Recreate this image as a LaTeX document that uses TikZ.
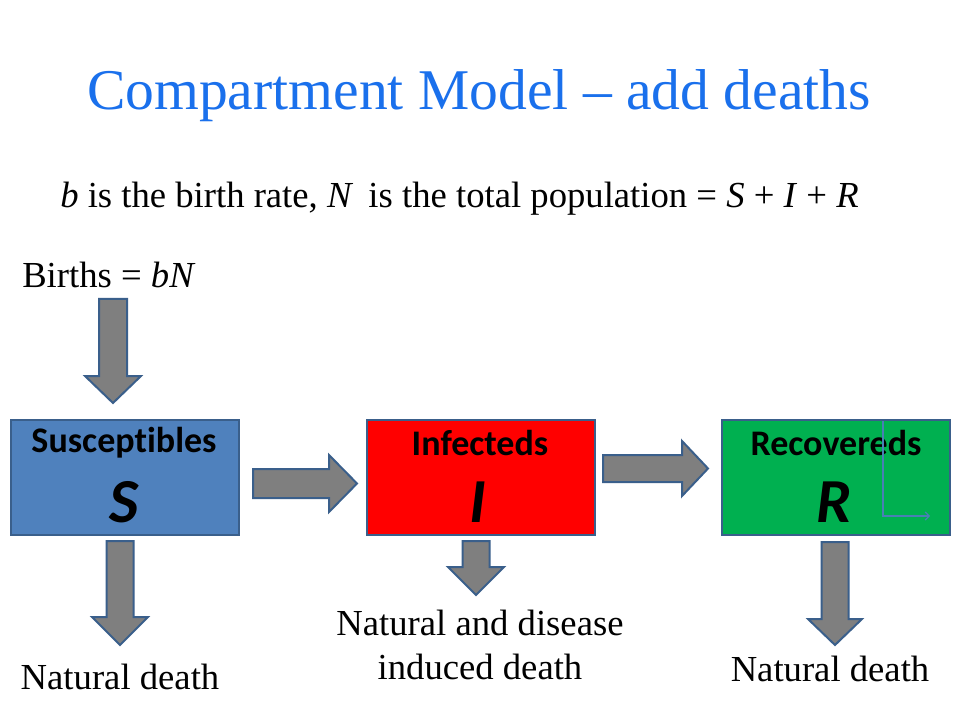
\documentclass[tikz,border=0pt]{standalone}
\usepackage{fontspec}
\usetikzlibrary{arrows.meta}
\setmainfont{Liberation Serif}
\newfontfamily\boxfont[Ligatures=NoCommon]{Carlito}
\definecolor{titleblue}{HTML}{1A70EC}
\definecolor{sfill}{HTML}{4F81BD}
\definecolor{bordr}{HTML}{3A5F8B}
\definecolor{ifill}{HTML}{FF0000}
\definecolor{rfill}{HTML}{00B050}
\definecolor{arrgray}{HTML}{7F7F7F}
\definecolor{thinblue}{HTML}{4A7FB5}
\newcommand{\blkdown}[7]{%
  \draw[blk] (#1-#5,#2) -- (#1+#5,#2) -- (#1+#5,#3) -- (#1+#6,#3) -- (#1,#4)
    -- (#1-#6,#3) -- (#1-#5,#3) -- cycle;}
\newcommand{\blkright}[6]{%
  \draw[blk] (#1,#2-#5) -- (#3,#2-#5) -- (#3,#2-#6) -- (#4,#2) -- (#3,#2+#6)
    -- (#3,#2+#5) -- (#1,#2+#5) -- cycle;}
\tikzset{
  blk/.style={fill=arrgray, draw=bordr, line width=1.5pt, line join=miter},
  comp/.style={draw=bordr, line width=1.5pt, minimum width=171pt, minimum height=86pt, inner sep=0pt},
  boxlabel/.style={font=\boxfont\bfseries\fontsize{27}{30}\selectfont, inner sep=0pt},
  boxvar/.style={font=\boxfont\bfseries\itshape\fontsize{47}{50}\selectfont, inner sep=0pt},
  txt/.style={font=\fontsize{27.5}{30}\selectfont, inner sep=0pt, align=center},
}
\begin{document}
\begin{tikzpicture}[x=0.75pt,y=-0.75pt]
\path[use as bounding box, fill=white] (0,0) rectangle (960,720);

\node[text=titleblue, font=\fontsize{43.2}{48}\selectfont, inner sep=0pt] (title) at (479,96) {Compartment Model -- add deaths};

\node[txt, anchor=west] (sub) at (60,199) {\textit{b} is the birth rate, \textit{N}\, is the total population = \textit{S} + \textit{I} + \textit{R}};

\node[txt, anchor=west] (births) at (22,275) {Births = \textit{bN}};

\node[comp, fill=sfill] (S) at (125,477.5) {};
\node[comp, fill=ifill] (I) at (480.5,477.5) {};
\node[comp, fill=rfill] (R) at (836,477.5) {};

\node[boxlabel] (Slab) at (124,443) {Susceptibles};
\node[boxvar] (Svar) at (124,502) {S};
\node[boxlabel] (Ilab) at (480,443) {Infecteds};
\node[boxvar] (Ivar) at (478,502) {I};
\node[boxlabel] (Rlab) at (836,443) {Recovereds};
\node[boxvar] (Rvar) at (834,502) {R};

\coordinate (rl1) at (883,421);
\coordinate (rl2) at (883,516);
\coordinate (rl3) at (930,516);
\draw[thinblue, line width=0.9pt, -{Straight Barb[length=3pt]}] (rl1) -- (rl2) -- (rl3);

% block arrows
\blkdown{113}{299}{376}{403}{14}{28}{}
\blkdown{120}{541}{617}{645}{13.5}{28}{}
\blkdown{476}{541}{567}{595}{13.5}{28}{}
\blkdown{835}{542}{619}{645}{13.5}{27}{}
\blkright{253}{483.5}{329}{357}{14.5}{28.5}
\blkright{603}{468.5}{682}{708}{13.5}{27.5}

\node[txt] (d1) at (120,677) {Natural death};
\node[txt] (d2) at (480,645) {Natural and disease\\[3pt]induced death};
\node[txt] (d3) at (830,669) {Natural death};
\end{tikzpicture}
\end{document}
